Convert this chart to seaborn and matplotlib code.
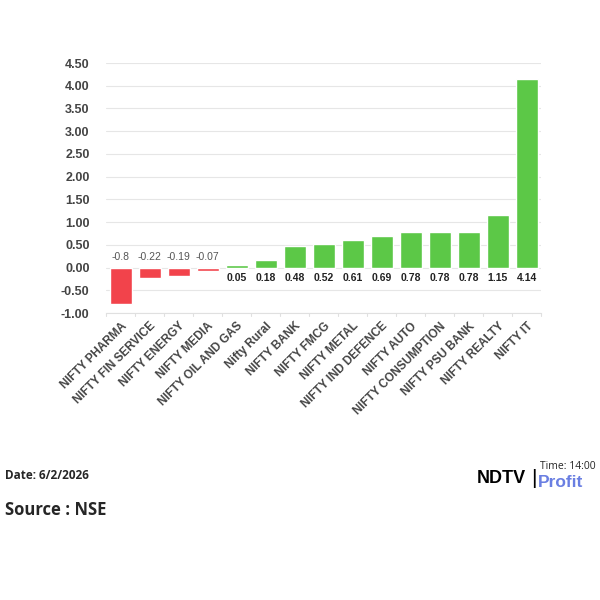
import matplotlib
matplotlib.use('Agg')
import matplotlib.pyplot as plt
import seaborn as sns
import pandas as pd

# index names and % change
indices = ['NIFTY PHARMA', 'NIFTY FIN SERVICE', 'NIFTY ENERGY', 'NIFTY MEDIA',
           'NIFTY OIL AND GAS', 'Nifty Rural', 'NIFTY BANK', 'NIFTY FMCG',
           'NIFTY METAL', 'NIFTY IND DEFENCE', 'NIFTY AUTO', 'NIFTY CONSUMPTION',
           'NIFTY PSU BANK', 'NIFTY REALTY', 'NIFTY IT']
changes = [-0.8, -0.22, -0.19, -0.07, 0.05, 0.18, 0.48, 0.52, 0.61, 0.69,
           0.78, 0.78, 0.78, 1.15, 4.14]
yticks = [-1.0, -0.5, 0.0, 0.5, 1.0, 1.5, 2.0, 2.5, 3.0, 3.5, 4.0, 4.5]

df = pd.DataFrame({'index': indices, 'change': changes})
red = '#F2434B'
green = '#5CC847'
df['sign'] = ['neg' if v < 0 else 'pos' for v in changes]

sns.set_style('white')
plt.rcParams['font.family'] = ['Liberation Sans', 'DejaVu Sans']

fig = plt.figure(figsize=(6, 6), dpi=100)
ax = fig.add_axes([0.177, 0.478, 0.725, 0.417])

sns.barplot(data=df, x='index', y='change', hue='sign',
            palette={'neg': red, 'pos': green}, width=0.76,
            dodge=False, legend=False, ax=ax, saturation=1)

ax.set_ylim(-1.0, 4.5)
ax.set_xlim(-0.5, len(indices) - 0.5)
ax.set_yticks(yticks)
ax.set_yticklabels([f'{t:.2f}' for t in yticks], fontsize=9, fontweight='bold', color='#444444')
ax.yaxis.grid(True, color='#e6e6e6', linewidth=0.8)
ax.set_axisbelow(True)
ax.tick_params(axis='y', length=0, pad=12)
ax.set_xlabel('')
ax.set_ylabel('')
for s in ['top', 'right', 'left']:
    ax.spines[s].set_visible(False)
ax.spines['bottom'].set_color('#e0e0e0')

ax.set_xticks(range(len(indices)))
ax.set_xticklabels(indices, rotation=45, ha='right', rotation_mode='anchor',
                   fontsize=8.5, fontweight='bold', color='#444444')
ax.tick_params(axis='x', length=0, pad=5)
for b in [i - 0.5 for i in range(len(indices) + 1)]:
    ax.plot([b, b], [-1.0, -1.07], color='#e0e0e0', lw=0.8, clip_on=False)

for i, v in enumerate(changes):
    if v < 0:
        ax.text(i, 0.12, f'{v:g}', ha='center', va='bottom', fontsize=7.5, color='#555555')
    else:
        ax.text(i, -0.12, f'{v:g}', ha='center', va='top', fontsize=7.5,
                fontweight='bold', color='#222222')

fig.text(0.008, 0.208, 'Date: 6/2/2026', fontsize=8.5, fontweight='bold',
         family=['Open Sans', 'DejaVu Sans'], va='center')
fig.text(0.008, 0.150, 'Source : NSE', fontsize=12, fontweight='bold',
         family=['Open Sans', 'DejaVu Sans'], va='center')
fig.text(0.992, 0.222, 'Time: 14:00', fontsize=7.5,
         family=['Open Sans', 'DejaVu Sans'], va='center', ha='right')
fig.text(0.795, 0.203, 'NDTV', fontsize=13, fontweight='heavy', color='black',
         va='center')
fig.text(0.886, 0.203, '|', fontsize=15, color='black', va='center')
fig.text(0.897, 0.196, 'Profit', fontsize=12.5, fontweight='bold', color='#6a7fe2',
         va='center')

fig.savefig('out.png', dpi=100)
